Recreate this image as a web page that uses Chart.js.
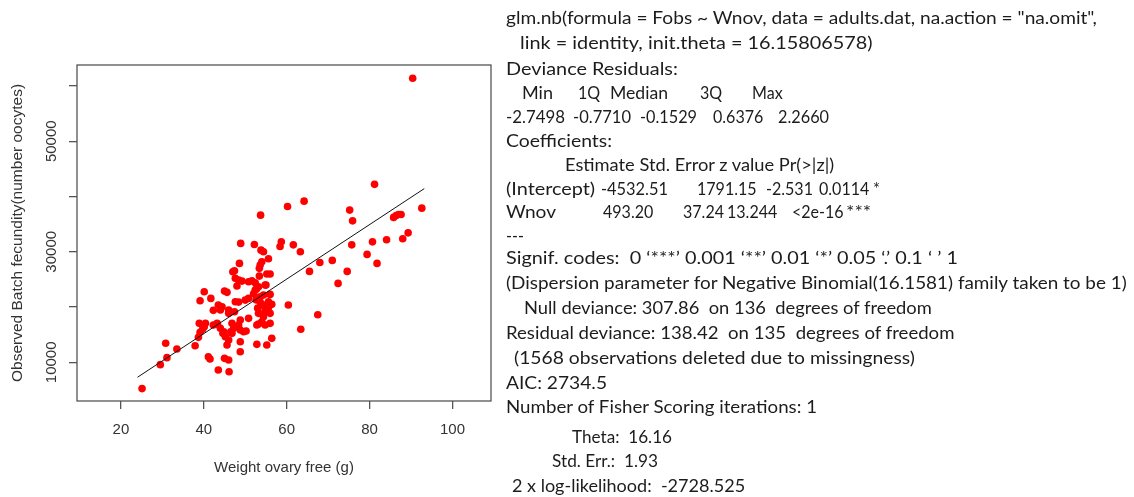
<!DOCTYPE html>
<html><head><meta charset="utf-8">
<script src="https://cdn.jsdelivr.net/npm/chart.js@4.4.1/dist/chart.umd.min.js"></script>
<style>
html,body{margin:0;padding:0;background:#fff;width:1134px;height:497px;overflow:hidden;}
#wrap{position:absolute;left:0;top:0;width:500px;height:497px;}
#out{position:absolute;left:0;top:0;width:1134px;height:497px;font-family:Lato,sans-serif;font-size:17px;color:#1c1c1c;}
#out span{position:absolute;white-space:pre;line-height:20px;transform-origin:0 50%;}
</style></head><body>
<div id="wrap"><canvas id="c" width="500" height="497"></canvas></div>
<div id="out"></div>
<script>
// ---- data ----
const weightOvary = [
 90.4,81.2,64.2,60.2,75.2,92.6,53.7,75.9,85.8,86.4,87.0,87.6,89.3,88.0,84.1,80.7,75.7,79.4,81.8,71.0,
 68.0,74.6,72.4,65.5,63.3,61.6,58.4,58.7,60.4,67.5,63.4,
 25.1,29.5,31.1,30.8,33.5,37.9,38.7,39.1,39.7,40.1,38.9,40.4,41.1,41.5,45.0,46.0,43.5,46.1,
 40.1,39.1,41.7,45.0,45.6,43.5,44.4,44.0,42.3,47.6,48.4,50.0,50.8,46.0,46.0,47.4,50.8,42.3,43.2,44.0,
 44.8,45.2,46.0,45.6,46.8,47.2,46.8,48.8,48.4,48.8,49.6,48.8,48.8,52.8,55.2,56.4,56.0,54.8,54.0,52.8,
 56.0,54.4,53.2,54.0,54.8,55.6,53.6,54.4,56.0,52.4,53.2,56.4,54.8,48.9,52.2,53.8,54.4,48.6,53.6,54.0,
 47.0,47.4,47.6,48.4,49.2,50.8,51.6,52.4,48.0,52.7,55.6,53.4,53.4,55.2,56.0,55.0,50.2,53.2,54.4,53.0,
 53.6,52.6,54.8,44.6,43.3,46.5,52.0,55.6
];
const batchFecundity = [
 61400,42200,39160,38200,37540,37900,36630,35600,36220,36580,36760,36760,33430,32350,32170,31800,31260,29530,27900,28440,
 28050,26450,24280,26450,30000,31260,30970,31800,20360,18610,15970,
 5240,9580,10840,13440,12410,13000,14520,15420,15970,16450,17050,17050,11010,10600,10720,10420,8610,8300,
 22770,21140,21570,22890,22660,20360,20050,19460,19400,20960,20900,21260,21570,19460,18860,19160,17960,16740,17050,16150,
 15530,14630,14030,13130,17050,16150,15240,17650,16740,15840,15530,13720,11920,13250,13130,14340,17050,16740,17340,16740,
 18860,18680,18860,20360,20360,20960,21860,22170,22290,23070,23670,20490,23980,31520,31330,30300,30000,27900,27590,28190,
 26380,26560,25190,24880,24700,24570,24750,24390,23800,23260,28730,27000,25600,25970,25970,23975,15670,16930,18260,19800,
 20900,21300,19400,15240,16870,15540,22400,19900
];
const fitLineX = [24.0, 93.2];
const fitLineY = [7300, 41430];
const xTicks = [20, 40, 60, 80, 100];
const yTicks = [10000, 20000, 30000, 40000, 50000, 60000];
const yTickLabels = ['10000', '', '30000', '', '50000', ''];
const xTitle = 'Weight ovary free (g)';
const yTitle = 'Observed Batch fecundity(number oocytes)';

// ---- model summary text: [centre y, [[left, right, text], ...]] ----
const summary = [
 [18,  [[506,1097,'glm.nb(formula = Fobs ~ Wnov, data = adults.dat, na.action = "na.omit",']]],
 [43,  [[520,882,'link = identity, init.theta = 16.15806578)']]],
 [69,  [[506,700,'Deviance Residuals:']]],
 [93,  [[522,553,'Min'],[578,597,'1Q'],[610,668,'Median'],[700,718,'3Q'],[752,782,'Max']]],
 [117, [[506,565,'-2.7498'],[573,631,'-0.7710'],[640,697,'-0.1529'],[713,763,'0.6376'],[778,829,'2.2660']]],
 [141, [[506,612,'Coefficients:']]],
 [165, [[565,835,'Estimate Std. Error z value Pr(>|z|)']]],
 [189, [[506,596,'(Intercept)'],[601,668,'-4532.51'],[697,752,'1791.15'],[766,808,'-2.531'],[819,864,'0.0114'],[873,880,'*']]],
 [212, [[506,556,'Wnov'],[603,652,'493.20'],[683,718,'37.24'],[727,775,'13.244'],[792,838,'<2e-16'],[846,872,'***']]],
 [236, [[506,520,'---']]],
 [258, [[506,1000,'Signif. codes:  0 \u2018***\u2019 0.001 \u2018**\u2019 0.01 \u2018*\u2019 0.05 \u2018.\u2019 0.1 \u2018 \u2019 1']]],
 [283, [[506,1128,'(Dispersion parameter for Negative Binomial(16.1581) family taken to be 1)']]],
 [308, [[524,932,'Null deviance: 307.86  on 136  degrees of freedom']]],
 [333, [[506,955,'Residual deviance: 138.42  on 135  degrees of freedom']]],
 [358, [[514,915,'(1568 observations deleted due to missingness)']]],
 [383, [[506,607,'AIC: 2734.5']]],
 [407, [[506,818,'Number of Fisher Scoring iterations: 1']]],
 [437, [[572,672,'Theta:  16.16']]],
 [461, [[552,658,'Std. Err.:  1.93']]],
 [486, [[512,745,'2 x log-likelihood:  -2728.525']]]
];

const out = document.getElementById('out');
const mctx = document.createElement('canvas').getContext('2d');
mctx.font = '17px Lato';
// one common horizontal scale, taken from the widest line; each piece may deviate only a little
const ref = summary[11][1][0];
const kBase = (ref[1] - ref[0]) / mctx.measureText(ref[2]).width;
summary.forEach(([yc, segs]) => {
  segs.forEach(([x0, x1, t]) => {
    const s = document.createElement('span');
    s.textContent = t;
    s.style.left = x0 + 'px';
    s.style.top = (yc - 10.5) + 'px';
    let k = (x1 - x0) / mctx.measureText(t).width;
    k = Math.max(kBase * 0.85, Math.min(kBase * 1.05, k));
    s.style.transform = 'scaleX(' + k.toFixed(3) + ')';
    out.appendChild(s);
  });
});

const axisFont = {family: "'Liberation Sans', Arial, sans-serif", size: 15};
const frame = {
  id: 'frame',
  afterDraw(chart) {
    const {ctx, chartArea: a} = chart;
    ctx.save();
    ctx.strokeStyle = '#555';
    ctx.lineWidth = 1.3;
    ctx.strokeRect(a.left, a.top, a.right - a.left, a.bottom - a.top);
    ctx.restore();
  }
};

new Chart(document.getElementById('c'), {
  type: 'scatter',
  data: {
    datasets: [
      {
        type: 'line',
        data: fitLineX.map((x, i) => ({x, y: fitLineY[i]})),
        borderColor: '#111',
        borderWidth: 1,
        pointRadius: 0,
        order: 0
      },
      {
        data: weightOvary.map((x, i) => ({x, y: batchFecundity[i]})),
        backgroundColor: '#ff0000',
        borderWidth: 0,
        pointRadius: 3.8,
        order: 1
      }
    ]
  },
  options: {
    responsive: false,
    animation: false,
    devicePixelRatio: 1,
    layout: {padding: {top: 65, right: 9, left: 0, bottom: 0}},
    plugins: {legend: {display: false}, tooltip: {enabled: false}},
    scales: {
      x: {
        type: 'linear', min: 9.4, max: 109.3,
        afterBuildTicks: s => { s.ticks = xTicks.map(v => ({value: v})); },
        afterFit: s => { s.height = 96; },
        border: {display: false},
        grid: {drawOnChartArea: false, drawTicks: true, tickLength: 8, color: '#555', lineWidth: 1.3},
        ticks: {font: axisFont, color: '#333', padding: 12, maxRotation: 0, autoSkip: false},
        title: {display: true, text: xTitle, font: axisFont, color: '#333', padding: {top: 0, bottom: 20}}
      },
      y: {
        type: 'linear', min: 3000, max: 63800,
        afterBuildTicks: s => { s.ticks = yTicks.map(v => ({value: v})); },
        afterFit: s => { s.width = 77; },
        border: {display: false},
        grid: {drawOnChartArea: false, drawTicks: true, tickLength: 8, color: '#555', lineWidth: 1.3},
        ticks: {
          font: axisFont, color: '#333', padding: -4, autoSkip: false,
          minRotation: 90, maxRotation: 90, crossAlign: 'center',
          callback: (v, i) => yTickLabels[i]
        },
        title: {display: true, text: yTitle, font: {family: axisFont.family, size: 15.5}, color: '#333', padding: {top: 8, bottom: 0}}
      }
    }
  },
  plugins: [frame]
});
</script>
</body></html>
